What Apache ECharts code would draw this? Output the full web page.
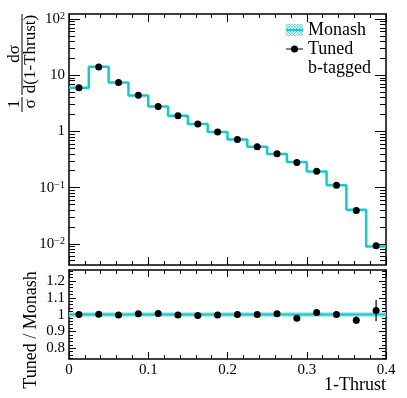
<!DOCTYPE html>
<html><head><meta charset="utf-8">
<script src="https://cdn.jsdelivr.net/npm/echarts@6/dist/echarts.min.js"></script>
<style>html,body{margin:0;padding:0;background:#fff}#c{width:407px;height:398px}</style>
</head><body><div id="c"></div>
<script>
// ---- data ----
const binEdges   = [0, 0.025, 0.05, 0.075, 0.1, 0.125, 0.15, 0.175, 0.2, 0.225, 0.25, 0.275, 0.3, 0.325, 0.35, 0.375, 0.4];
const binCenters = [0.0125, 0.0375, 0.0625, 0.0875, 0.1125, 0.1375, 0.1625, 0.1875, 0.2125, 0.2375, 0.2625, 0.2875, 0.3125, 0.3375, 0.3625, 0.3875];
const monash     = [6.0, 14.1, 7.45, 4.38, 2.77, 1.9, 1.36, 0.98, 0.72, 0.535, 0.397, 0.287, 0.193, 0.11, 0.0405, 0.009];
const tuned      = [6.0, 14.0, 7.4, 4.4, 2.79, 1.9, 1.35, 0.975, 0.72, 0.535, 0.399, 0.281, 0.195, 0.11, 0.039, 0.0092];
const ratio      = [1.0, 1.002, 0.997, 1.005, 1.006, 0.998, 0.995, 0.997, 1.0, 1.0, 1.005, 0.978, 1.013, 1.0, 0.966, 1.024];
const ratioErr   = [0.002, 0.002, 0.002, 0.002, 0.002, 0.002, 0.003, 0.003, 0.003, 0.004, 0.004, 0.005, 0.007, 0.01, 0.022, 0.064];
const xTicks       = [0, 0.1, 0.2, 0.3, 0.4];
const xTickLabels  = ['0', '0.1', '0.2', '0.3', '0.4'];
const logTicks     = [0.01, 0.1, 1, 10, 100];
const logTickLabels= ['10{s|\u22122}', '10{s|\u22121}', '1', '10', '10{s|2}'];
const ratioTicks   = [0.8, 0.9, 1, 1.1, 1.2];
const ratioTickLabels = ['0.8', '0.9', '1', '1.1', '1.2'];

// ---- styling ----
const FONT = 'Liberation Serif';
const CYAN = '#17c9c9';
const Y_MIN = 0.0042, Y_MAX = 123, R_MIN = 0.736, R_MAX = 1.265;

const logMinor = [];
for (let e = -3; e <= 2; e++) for (let k = 2; k <= 9; k++) {
  const v = +(k * Math.pow(10, e)).toPrecision(3);
  if (v > Y_MIN && v < Y_MAX) logMinor.push(v);
}
const ratioMinor = [];
for (let i = 37; i <= 63; i++) { if (i % 5 !== 0) ratioMinor.push(+(i * 0.02).toFixed(2)); }

const line = {color: '#000', width: 1.5};
const tickLine = {color: '#000', width: 1};

function xAx(grid, pos, showLabel, major, minor) {
  return {
    type: 'value', gridIndex: grid, position: pos, min: 0, max: 0.4, interval: 0.1,
    axisLine: {show: true, onZero: false, lineStyle: line},
    axisTick: {show: true, inside: true, length: major, lineStyle: tickLine},
    minorTick: {show: true, splitNumber: 5, length: minor, lineStyle: tickLine},
    splitLine: {show: false},
    axisLabel: {show: showLabel, margin: 4, fontFamily: FONT, fontSize: 15, color: '#000',
      customValues: xTicks, formatter: v => xTickLabels[xTicks.indexOf(v)]}
  };
}
function yLog(pos, isMajor) {
  return {
    type: 'log', logBase: 10, gridIndex: 0, position: pos, min: Y_MIN, max: Y_MAX,
    axisLine: {show: isMajor, onZero: false, lineStyle: line},
    axisTick: {show: true, inside: true, length: isMajor ? 11 : 6, customValues: isMajor ? logTicks : logMinor, lineStyle: tickLine},
    splitLine: {show: false},
    axisLabel: {show: isMajor && pos === 'left', margin: 4, fontFamily: FONT, fontSize: 15, color: '#000',
      customValues: logTicks,
      formatter: v => { let i = logTicks.findIndex(t => Math.abs(t - v) / t < 1e-6); return logTickLabels[i]; },
      rich: {s: {fontFamily: FONT, fontSize: 10, color: '#000', verticalAlign: 'top', lineHeight: 10}}}
  };
}
function yRatio(pos, isMajor) {
  return {
    type: 'value', gridIndex: 1, position: pos, min: R_MIN, max: R_MAX,
    axisLine: {show: isMajor, onZero: false, lineStyle: line},
    axisTick: {show: true, inside: true, length: isMajor ? 7 : 4, customValues: isMajor ? ratioTicks : ratioMinor, lineStyle: tickLine},
    splitLine: {show: false},
    axisLabel: {show: isMajor && pos === 'left', margin: 4, fontFamily: FONT, fontSize: 15, color: '#000',
      customValues: ratioTicks, formatter: v => ratioTickLabels[ratioTicks.findIndex(t => Math.abs(t - v) < 1e-9)]}
  };
}

// legend icons drawn on small canvases
function makeIcon(draw) {
  const c = document.createElement('canvas'); c.width = 17; c.height = 12;
  const g = c.getContext('2d'); draw(g); return 'image://' + c.toDataURL();
}
const monashIcon = makeIcon(g => {
  g.strokeStyle = 'rgba(23,201,201,0.55)'; g.lineWidth = 1;
  for (let d = -12; d < 30; d += 3) {
    g.beginPath(); g.moveTo(d, 0); g.lineTo(d + 12, 12); g.stroke();
    g.beginPath(); g.moveTo(d + 12, 0); g.lineTo(d, 12); g.stroke();
  }
  g.strokeStyle = CYAN; g.lineWidth = 2.5;
  g.beginPath(); g.moveTo(0, 6); g.lineTo(17, 6); g.stroke();
});
const tunedIcon = makeIcon(g => {
  g.strokeStyle = '#000'; g.lineWidth = 1;
  g.beginPath(); g.moveTo(0, 6); g.lineTo(17, 6); g.stroke();
  g.fillStyle = '#000'; g.beginPath(); g.arc(8.5, 6, 3.5, 0, Math.PI * 2); g.fill();
});

const chart = echarts.init(document.getElementById('c'), null, {renderer: 'canvas'});
const histData = binEdges.map((e, i) => [e, monash[Math.min(i, monash.length - 1)]]);

chart.setOption({
  animation: false,
  backgroundColor: '#fff',
  grid: [
    {left: 69, top: 14, width: 317, height: 251, outerBoundsMode: 'none', containLabel: false},
    {left: 69, top: 270, width: 317, height: 89, outerBoundsMode: 'none', containLabel: false}
  ],
  xAxis: [
    xAx(0, 'bottom', false, 8, 4), xAx(0, 'top', false, 8, 4),
    xAx(1, 'bottom', true, 7, 4), xAx(1, 'top', false, 7, 4)
  ],
  yAxis: [
    yLog('left', true), yLog('left', false), yLog('right', true), yLog('right', false),
    yRatio('left', true), yRatio('left', false), yRatio('right', true), yRatio('right', false)
  ],
  legend: {
    orient: 'vertical', left: 286, top: 21, padding: 0, itemGap: 1,
    itemWidth: 17, itemHeight: 12, selectedMode: false,
    textStyle: {fontFamily: FONT, fontSize: 18, color: '#000'},
    data: [{name: 'Monash', icon: monashIcon}, {name: 'Tuned', icon: tunedIcon}]
  },
  graphic: [
    {type: 'text', x: 308, y: 68, style: {text: 'b-tagged', font: '18px "Liberation Serif"', fill: '#000', align: 'left', verticalAlign: 'middle'}},
    {type: 'text', x: 386, y: 385, style: {text: '1-Thrust', font: '18px "Liberation Serif"', fill: '#000', align: 'right', verticalAlign: 'middle'}},
    {type: 'text', x: 31, y: 330, rotation: Math.PI / 2, style: {text: 'Tuned / Monash', font: '18px "Liberation Serif"', fill: '#000', align: 'center', verticalAlign: 'middle'}},
    {type: 'text', x: 14.5, y: 54, rotation: Math.PI / 2, style: {text: 'd\u03c3', font: '17px "Liberation Serif"', fill: '#000', align: 'center', verticalAlign: 'middle'}},
    {type: 'line', shape: {x1: 22, y1: 14, x2: 22, y2: 95}, style: {stroke: '#000', lineWidth: 1}},
    {type: 'text', x: 31, y: 54, rotation: Math.PI / 2, style: {text: 'd(1-Thrust)', font: '17px "Liberation Serif"', fill: '#000', align: 'center', verticalAlign: 'middle'}},
    {type: 'text', x: 14.5, y: 104, rotation: Math.PI / 2, style: {text: '1', font: '17px "Liberation Serif"', fill: '#000', align: 'center', verticalAlign: 'middle'}},
    {type: 'line', shape: {x1: 22, y1: 97, x2: 22, y2: 112}, style: {stroke: '#000', lineWidth: 1}},
    {type: 'text', x: 31, y: 104, rotation: Math.PI / 2, style: {text: '\u03c3', font: '17px "Liberation Serif"', fill: '#000', align: 'center', verticalAlign: 'middle'}}
  ],
  series: [
    {name: 'Monash', type: 'line', xAxisIndex: 0, yAxisIndex: 0, step: 'end', data: histData,
      showSymbol: false, symbol: 'none', itemStyle: {color: CYAN}, lineStyle: {color: CYAN, width: 2.5}, clip: true, z: 2},
    {name: 'Tuned', type: 'scatter', xAxisIndex: 0, yAxisIndex: 0,
      data: binCenters.map((c, i) => [c, tuned[i]]), symbol: 'circle', symbolSize: 7, itemStyle: {color: '#000', opacity: 1}, z: 3},
    {name: 'Monash band', type: 'line', xAxisIndex: 2, yAxisIndex: 4,
      data: [[binEdges[0], 1], [binEdges[binEdges.length - 1], 1]], symbol: 'none',
      lineStyle: {color: '#9fe6e6', width: 4.5}, z: 1},
    {name: 'Monash ratio', type: 'line', xAxisIndex: 2, yAxisIndex: 4,
      data: [[binEdges[0], 1], [binEdges[binEdges.length - 1], 1]], symbol: 'none',
      lineStyle: {color: CYAN, width: 2}, z: 2},
    {name: 'Tuned err', type: 'custom', xAxisIndex: 2, yAxisIndex: 4,
      data: binCenters.map((c, i) => [c, ratio[i] - ratioErr[i], ratio[i] + ratioErr[i]]),
      renderItem: (params, api) => {
        const p1 = api.coord([api.value(0), api.value(1)]);
        const p2 = api.coord([api.value(0), api.value(2)]);
        return {type: 'line', shape: {x1: p1[0], y1: p1[1], x2: p2[0], y2: p2[1]}, style: {stroke: '#000', lineWidth: 1.2}};
      }, z: 3},
    {name: 'Tuned ratio', type: 'scatter', xAxisIndex: 2, yAxisIndex: 4,
      data: binCenters.map((c, i) => [c, ratio[i]]), symbol: 'circle', symbolSize: 7, itemStyle: {color: '#000', opacity: 1}, z: 4}
  ]
});
</script></body></html>
